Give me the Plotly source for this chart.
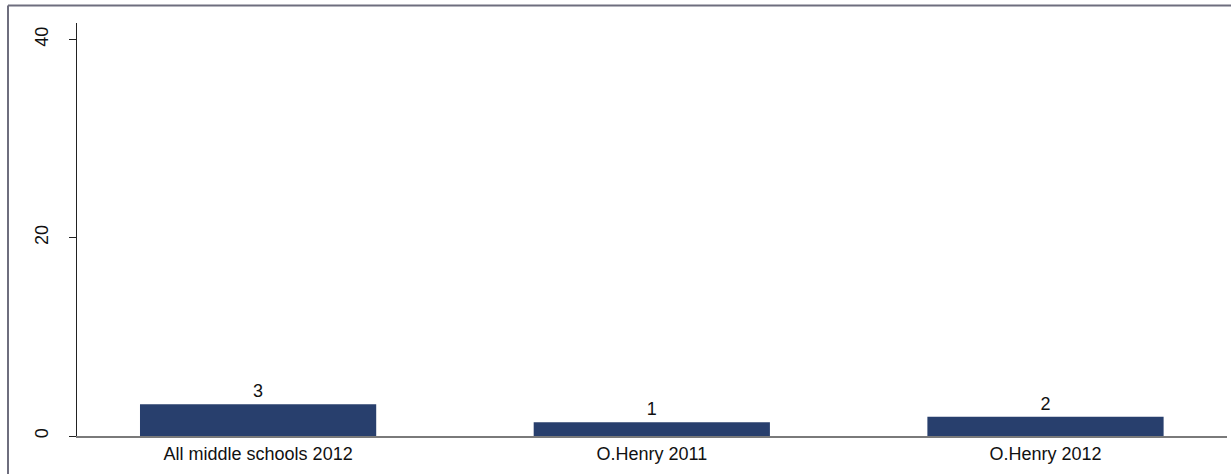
import plotly.graph_objects as go

categories = ["All middle schools 2012", "O.Henry 2011", "O.Henry 2012"]
values = [3.2, 1.38, 1.95]
y_ticks = [0, 20, 40]

bar_color = "#283f6d"
font_name = "Liberation Sans, Arial, sans-serif"

fig = go.Figure()
fig.add_trace(go.Bar(
    x=list(range(len(categories))),
    y=values,
    width=0.6,
    marker=dict(color=bar_color, line=dict(width=0)),
    text=[f"{v:.0f}" for v in values],
    textposition="outside",
    textfont=dict(size=18, color="#111111", family=font_name),
    cliponaxis=False,
))

# outer frame (image is cropped on the right and bottom)
frame = dict(color="#6e6e7e", width=2)
fig.add_shape(type="line", xref="paper", yref="paper",
              x0=-0.06, x1=1.1, y0=1.0424, y1=1.0424, line=frame)
fig.add_shape(type="line", xref="paper", yref="paper",
              x0=-0.06, x1=-0.06, y0=-0.2, y1=1.0424, line=frame)

fig.update_layout(
    width=1231, height=474,
    margin=dict(l=77, r=4, t=23, b=38),
    paper_bgcolor="white", plot_bgcolor="white",
    showlegend=False,
    font=dict(family=font_name, size=18, color="#111111"),
    xaxis=dict(
        range=[-0.46, 2.461],
        tickmode="array", tickvals=list(range(len(categories))), ticktext=categories,
        ticks="", showgrid=False, zeroline=False,
        showline=True, linecolor="#7a7a7a", linewidth=2,
        tickfont=dict(size=18),
    ),
    yaxis=dict(
        range=[0, 41.65],
        tickmode="array", tickvals=y_ticks,
        ticks="outside", ticklen=7, tickcolor="#222222", tickwidth=1,
        tickangle=-90, ticklabelstandoff=14,
        showgrid=False, zeroline=False,
        showline=True, linecolor="#222222", linewidth=1,
        tickfont=dict(size=18),
    ),
)

# drop the default 8px page margin so the figure sits at the window corner
fig.write_html("out.html", config={"displayModeBar": False},
               post_script="document.body.style.margin='0';document.body.style.overflow='hidden';")
